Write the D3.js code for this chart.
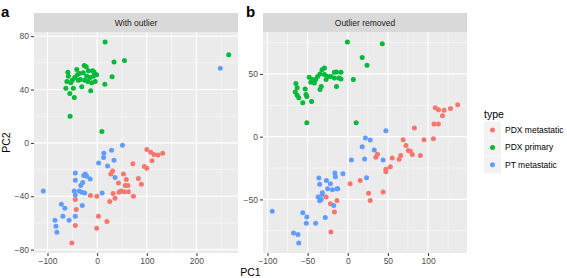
<!DOCTYPE html>
<meta charset="utf-8">
<style>
  body { margin: 0; background: #fff; }
  svg text { font-family: "Liberation Sans", Arial, sans-serif; }
</style>
<svg width="567" height="278"></svg>
<script src="https://d3js.org/d3.v7.min.js"></script>
<script>

// --- data: [PC1, PC2] ---
types = ["PDX metastatic", "PDX primary", "PT metastatic"]
colors = ["#F8766D", "#00BA38", "#619CFF"]

// panel a: with outlier
aMetastatic = [[100,-5],[108,-7],[114.5,-8.7],[122.5,-9],[132,-7.7],[110.5,-13.4],[95,-17.7],[100,-19],[72,-15.7],[31,-21],[27.5,-23.4],[53,-23.4],[83,-26.6],[58.5,-27.4],[43,-30],[89,-31],[62,-32],[56.5,-32],[63,-36.6],[54.5,-36.6],[48,-36],[44,-37],[73,-40],[32,-38],[36,-41.5],[25.5,-44],[-13.5,-39.5],[-0.6,-40],[-44,-42.5],[-42,-50],[2.6,-55],[19.6,-59],[-1,-64],[-44,-62],[-51,-75]]
aPrimary = [[16,75.6],[34,60.7],[55,61.7],[30,49.5],[15.5,44],[-13,39],[265,66],[9.5,8.5],[-54.5,20],[-59,53],[-58,50],[-61,46],[-63,41],[-55,37],[-46,34],[-53,45],[-48,41],[-41,55],[-40,51],[-34,47.5],[-31,42],[-26,58],[-22,57],[-28,52.5],[-21,50],[-17.5,54],[-14,49],[-9,54],[-7.5,50],[-4,46],[-1,51],[-11,45],[-36,52],[-45,49],[-38,47],[-50,47],[-25,47],[-19,46],[-6,53]]
aPT = [[248,56],[51,-1.7],[29,-5.5],[13.5,-7.7],[13,-11],[34,-13],[3,-15],[21,-17.4],[-44,-22.6],[-24,-23.4],[-21,-25],[-14,-27],[-44,-28],[-29,-29.6],[-33,-32],[36,-26],[-36,-36],[-46,-36],[-31,-37],[-25,-37.6],[10,-37.6],[-108.5,-36],[-72,-46],[-65,-49],[-30,-47],[-44,-55],[-69,-55],[-56.5,-58],[-85,-58],[-83,-62.5],[-81,-67],[-44,-39],[-27,-24.5]]

// panel b: outlier removed
bMetastatic = [[109,23],[113,21.4],[120,21],[128,22.5],[137,25.4],[118,16.7],[107.5,10],[113,10],[83,7],[69,-2.4],[95,-2.4],[106.7,-1.6],[72.5,-7],[75.4,-11],[78,-11.6],[80.4,-14.3],[66,-15],[64,-18],[55.4,-17],[90.4,-15],[37,-14],[35,-16.4],[47.5,-26],[47.5,-28],[53,-24],[3,-37.6],[15.4,-35],[26,-45],[28,-50.8],[44,-44],[-13.4,-50.8],[-21.6,-53.4],[-16.6,-60],[-21,-76],[-27,-48]]
bPrimary = [[-0.4,75.4],[43,74],[18,63],[24,57],[7,45.5],[10.5,11],[-51,11],[-56,27],[-45,28],[-64.6,42.3],[-63,39],[-65.4,35.5],[-63,33],[-61,31],[-53,38],[-52,33.6],[-51,32],[-48,47.4],[-46,43.4],[-44,45.5],[-40,45.5],[-37.5,48],[-34.6,50],[-32,53.4],[-29,54.8],[-29,49.5],[-27,45.5],[-25,48],[-33,40],[-34.6,37.6],[-41.6,42.8],[-16.6,51.3],[-14,51.6],[-8.4,51.3],[-16.6,46.8],[-11,46.8],[-8.4,46],[-14,40],[-21,48]]
bPT = [[47.5,4.8],[22,-1],[28,-2.7],[18,-8],[33,-10.6],[4.6,-18.5],[21,-17.7],[44,-18.5],[-6,-29.6],[-16,-29],[-15.4,-32],[-36,-33],[-35,-38],[-21.6,-37.6],[-25,-41.5],[-26.6,-35],[-19,-42.3],[-13.4,-41.5],[23.4,-32.8],[-31.6,-44.7],[-37,-48],[-33,-50],[-32,-46],[-35,-51],[-12.5,-41.5],[-17.5,-54.8],[-94,-59.5],[-56,-60.6],[-51,-64],[-51.6,-69],[-40,-69],[-28,-64.5],[-67.5,-76.7],[-62,-78],[-61,-84.7]]

aXTicks = [-100, 0, 100, 200]
aYTicks = [-80, -40, 0, 40, 80]
bXTicks = [-100, -50, 0, 50, 100]
bYTicks = [-50, 0, 50]

panels = [
  {tag: "a", title: "With outlier", left: 34, series: [aMetastatic, aPrimary, aPT], xt: aXTicks, yt: aYTicks},
  {tag: "b", title: "Outlier removed", left: 263, series: [bMetastatic, bPrimary, bPT], xt: bXTicks, yt: bYTicks}
]

pw = 204
top_ = 32
bottom = 253
stripH = 19

svg = d3.select("svg")

// ggplot style 5% expansion
function expanded(vals) {
  var e = d3.extent(vals), pad = (e[1] - e[0]) * 0.05
  return [e[0] - pad, e[1] + pad]
}
function minors(ticks, dom) {
  var step = ticks[1] - ticks[0], out = []
  for (var v = ticks[0] - step / 2; v <= dom[1]; v += step) if (v >= dom[0]) out.push(v)
  return out
}

panels.forEach(function(p) {
  var all = d3.merge(p.series)
  var x = d3.scaleLinear().domain(expanded(all.map(d => d[0]))).range([p.left, p.left + pw])
  var y = d3.scaleLinear().domain(expanded(all.map(d => d[1]))).range([bottom, top_])

  var g = svg.append("g")

  g.append("rect")
    .attr("x", p.left).attr("y", top_)
    .attr("width", pw).attr("height", bottom - top_)
    .attr("fill", "#EBEBEB")

  // strip
  g.append("rect")
    .attr("x", p.left).attr("y", top_ - stripH)
    .attr("width", pw).attr("height", stripH)
    .attr("fill", "#D9D9D9")
  g.append("text")
    .attr("x", p.left + pw / 2).attr("y", top_ - stripH / 2 + 3)
    .attr("text-anchor", "middle")
    .attr("font-size", 8.5).attr("fill", "#1A1A1A")
    .text(p.title)

  // panel tag
  g.append("text")
    .attr("x", p.left - (p.tag == "a" ? 33 : 17)).attr("y", 17)
    .attr("font-size", 15).attr("font-weight", "bold")
    .text(p.tag)

  // grid lines
  var grid = g.append("g").attr("stroke", "#fff").attr("fill", "none")
  minors(p.xt, x.domain()).forEach(function(v) {
    grid.append("line").attr("x1", x(v)).attr("x2", x(v)).attr("y1", top_).attr("y2", bottom).attr("stroke-width", 0.5)
  })
  minors(p.yt, y.domain()).forEach(function(v) {
    grid.append("line").attr("y1", y(v)).attr("y2", y(v)).attr("x1", p.left).attr("x2", p.left + pw).attr("stroke-width", 0.5)
  })
  p.xt.forEach(function(v) {
    grid.append("line").attr("x1", x(v)).attr("x2", x(v)).attr("y1", top_).attr("y2", bottom).attr("stroke-width", 1.1)
  })
  p.yt.forEach(function(v) {
    grid.append("line").attr("y1", y(v)).attr("y2", y(v)).attr("x1", p.left).attr("x2", p.left + pw).attr("stroke-width", 1.1)
  })

  // axes
  var ax = g.append("g")
    .attr("transform", "translate(0," + bottom + ")")
    .call(d3.axisBottom(x).tickValues(p.xt).tickSize(3).tickPadding(2))
  var ay = g.append("g")
    .attr("transform", "translate(" + p.left + ",0)")
    .call(d3.axisLeft(y).tickValues(p.yt).tickSize(3).tickPadding(2))
  ;[ax, ay].forEach(function(a) {
    a.select(".domain").remove()
    a.selectAll(".tick line").attr("stroke", "#333")
    a.selectAll(".tick text").attr("fill", "#4D4D4D").attr("font-size", 8.5)
      .style("font-family", "Liberation Sans, Arial, sans-serif")
  })

  // points
  p.series.forEach(function(s, i) {
    g.append("g").selectAll("circle")
      .data(s)
      .join("circle")
      .attr("cx", d => x(d[0]))
      .attr("cy", d => y(d[1]))
      .attr("r", 2.5)
      .attr("fill", colors[i])
  })
})

// axis titles
svg.append("text")
  .attr("x", (34 + 263 + pw) / 2).attr("y", 276)
  .attr("text-anchor", "middle").attr("font-size", 10.5)
  .text("PC1")
svg.append("text")
  .attr("transform", "translate(10," + (top_ + bottom) / 2 + ") rotate(-90)")
  .attr("text-anchor", "middle").attr("font-size", 10.5)
  .text("PC2")

// legend
var leg = svg.append("g").attr("transform", "translate(484,0)")
leg.append("text").attr("x", 0).attr("y", 118).attr("font-size", 10.5).text("type")
types.forEach(function(t, i) {
  var cy = 130 + i * 17.4
  leg.append("rect").attr("x", 0).attr("y", cy - 8.5).attr("width", 17).attr("height", 17).attr("fill", "#F2F2F2")
  leg.append("circle").attr("cx", 8.5).attr("cy", cy).attr("r", 2.5).attr("fill", colors[i])
  leg.append("text").attr("x", 21).attr("y", cy + 3).attr("font-size", 8.5).attr("fill", "#000").text(t)
})
</script>
